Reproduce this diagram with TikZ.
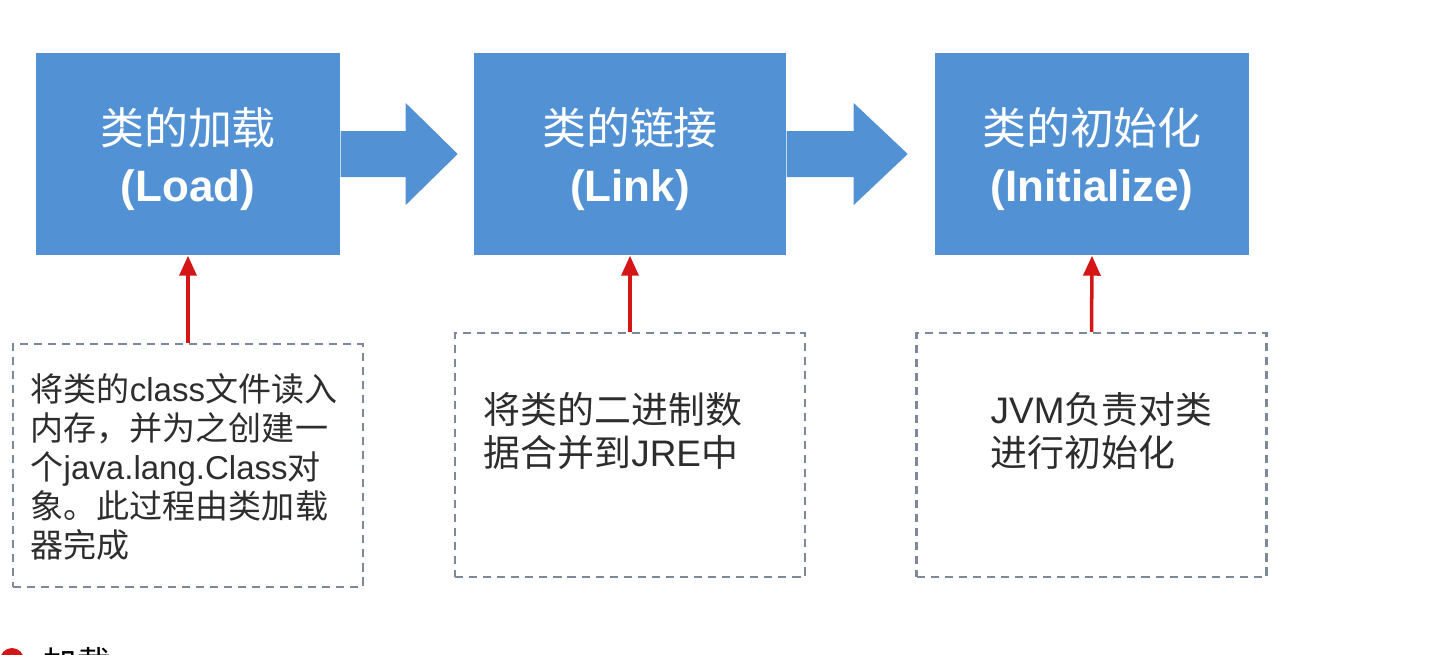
\documentclass[tikz,border=0pt]{standalone}
\usepackage{fontspec}
\setmainfont{Liberation Sans}
\newfontfamily\cjk{Noto Sans CJK SC}
\usepackage{xcolor}
\usetikzlibrary{arrows.meta, positioning, calc}
\definecolor{stageblue}{RGB}{82, 146, 212}
\definecolor{notegray}{RGB}{125, 136, 152}
\definecolor{feedred}{RGB}{212, 22, 22}
\definecolor{notetextgray}{RGB}{45, 45, 45}
\newcommand{\stagestrut}{\rule{0pt}{13.4pt}}

\begin{document}
\begin{tikzpicture}[
        stage/.style={fill=stageblue, minimum height=2.02cm, text=white, align=center, inner sep=0pt, font=\fontsize{12.5}{16.2}\selectfont},
        notebox/.style={draw=notegray, line width=0.6pt, dash pattern=on 2.3pt off 1.7pt, minimum width=3.5cm, minimum height=2.44cm},
        notetext/.style={text=notetextgray, align=left, inner sep=0pt, anchor=west},
        feed/.style={draw=feedred, line width=1pt, -{Triangle[length=0.2cm, width=0.17cm]}}
    ]
        \clip (0,0) rectangle (14.30,6.54);

        % stages
        \node[stage, minimum width=3.04cm] (load) at (1.88,5.00) {\stagestrut{\cjk 类的加载}\\\textbf{(Load)}};
        \node[stage, minimum width=3.12cm] (link) at (6.30,5.00) {\stagestrut{\cjk 类的链接}\\\textbf{(Link)}};
        \node[stage, minimum width=3.14cm] (init) at (10.92,5.00) {\stagestrut{\cjk 类的初始化}\\\textbf{(Initialize)}};

        % load -> link
        \fill[stageblue] ([yshift=0.23cm]load.east) -- ++(0.65,0) -- ++(0,0.28)
            -- ([xshift=1.17cm]load.east) -- ++(-0.52,-0.51) -- ++(0,0.28)
            -- ([yshift=-0.23cm]load.east) -- cycle;
        % link -> init
        \fill[stageblue] ([yshift=0.23cm]link.east) -- ++(0.67,0) -- ++(0,0.28)
            -- ([xshift=1.21cm]link.east) -- ++(-0.54,-0.51) -- ++(0,0.28)
            -- ([yshift=-0.23cm]link.east) -- cycle;

        % notes
        \node[notebox, minimum height=2.43cm] (loadnote) at (1.88,1.885) {};
        \node[notebox] (linknote) at (6.30,1.99) {};
        \node[notebox] (initnote) at (10.915,1.99) {};

        \node[notetext, font=\fontsize{9.4}{11.1}\selectfont] (loadtext) at (0.30,1.87)
            {{\cjk 将类的}class{\cjk 文件读入}\\{\cjk 内存，并为之创建一}\\{\cjk 个}java.lang.Class{\cjk 对}\\{\cjk 象。此过程由类加载}\\{\cjk 器完成}};
        \node[notetext, font=\fontsize{10.5}{12}\selectfont] (linktext) at (4.83,2.23)
            {{\cjk 将类的二进制数}\\{\cjk 据合并到}JRE{\cjk 中}};
        \node[notetext, font=\fontsize{10.5}{12}\selectfont] (inittext) at (9.90,2.23)
            {JVM{\cjk 负责对类}\\{\cjk 进行初始化}};

        \draw[feed] (loadnote.north) -- (load.south);
        \draw[feed] (linknote.north) -- (link.south);
        \draw[feed] (initnote.north) -- (init.south);

        % next heading, cut off at the bottom
        \fill[feedred] (0.12,-0.06) circle (0.12);
        \node[text=black, inner sep=0pt, font=\fontsize{9.5}{11}\selectfont] (loadhead) at (0.77,-0.09) {\cjk 加载};
    \end{tikzpicture}
\end{document}
